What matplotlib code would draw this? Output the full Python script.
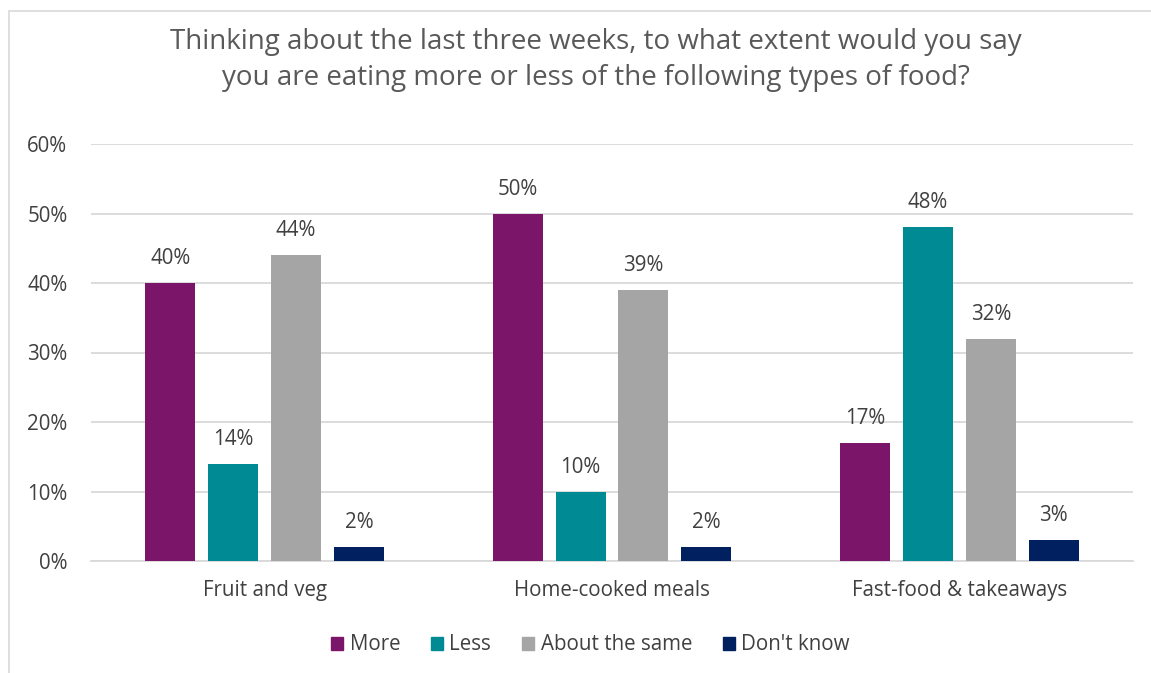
import numpy as np
import matplotlib.pyplot as plt
from matplotlib.patches import Rectangle, Patch

plt.rcParams['font.family'] = ['Open Sans', 'DejaVu Sans']

categories = ["Fruit and veg", "Home-cooked meals", "Fast-food & takeaways"]
series = ["More", "Less", "About the same", "Don't know"]
more = [40, 50, 17]
less = [14, 10, 48]
same = [44, 39, 32]
dont_know = [2, 2, 3]
yticks = [0, 10, 20, 30, 40, 50, 60]

colors = ["#7B1569", "#008B94", "#A5A5A5", "#002060"]
txt = "#404040"
fs = 14.8

fig = plt.figure(figsize=(11.51, 6.73), dpi=100)
fig.patches.append(Rectangle((9 / 1151, -0.01), 1.1, 1 - 11 / 673 + 0.01,
                             transform=fig.transFigure, fill=False,
                             edgecolor="#D9D9D9", lw=1.2))

ax = fig.add_axes([91 / 1151, 1 - 561 / 673, (1133 - 91) / 1151, (561 - 144) / 673])

x = np.arange(len(categories))
width = 0.144
step = 0.181
data = [more, less, same, dont_know]
for i, (vals, name, col) in enumerate(zip(data, series, colors)):
    pos = x + (i - 1.5) * step
    ax.bar(pos, vals, width=width, color=col, label=name, zorder=3)
    for p, v in zip(pos, vals):
        ax.text(p, v + 2.0, f"{v}%", ha="center", va="bottom", fontsize=fs, color=txt)

ax.set_xlim(-0.5, 2.5)
ax.set_ylim(0, 60)
ax.set_yticks(yticks)
ax.set_yticklabels([f"{t}%" for t in yticks], fontsize=fs, color=txt)
ax.set_xticks(x)
ax.set_xticklabels(categories, fontsize=fs, color=txt)
ax.tick_params(length=0)
ax.tick_params(axis="x", pad=14)
ax.tick_params(axis="y", pad=17)
ax.grid(axis="y", color="#D9D9D9", lw=1.3, zorder=0)
for s in ["top", "right", "left"]:
    ax.spines[s].set_visible(False)
ax.spines["bottom"].set_color("#D9D9D9")
ax.spines["bottom"].set_linewidth(1.3)

fig.text(0.518, 1 - 60 / 673,
         "Thinking about the last three weeks, to what extent would you say\n"
         "you are eating more or less of the following types of food?",
         ha="center", va="center", fontsize=20, color="#595959", linespacing=1.42)

handles = [Patch(color=c) for c in colors]
fig.legend(handles, series, loc="center", bbox_to_anchor=(0.513, 1 - 645 / 673),
           ncol=4, frameon=False, fontsize=fs, handlelength=0.6, handleheight=0.6,
           handletextpad=0.3, columnspacing=1.5, labelcolor=txt)

fig.savefig("out.png", dpi=100)
